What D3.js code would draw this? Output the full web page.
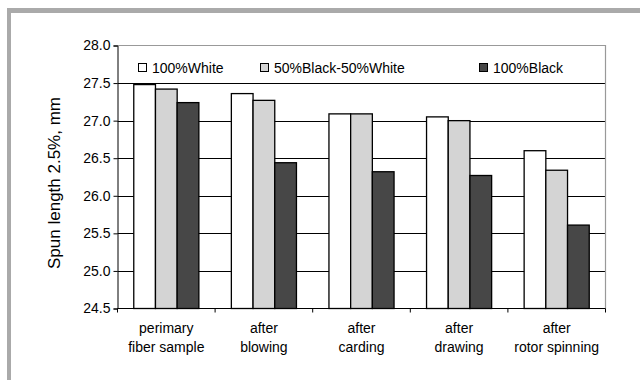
<!DOCTYPE html>
<html><head><meta charset="utf-8">
<script src="https://cdn.jsdelivr.net/npm/d3@7/dist/d3.min.js"></script>
<style>body{margin:0;background:#fff}svg{display:block;font-family:"Liberation Sans",Arial,sans-serif}</style>
</head><body><svg id="c" width="640" height="380"></svg>
<script>
const categories = [["perimary","fiber sample"],["after","blowing"],["after","carding"],["after","drawing"],["after","rotor spinning"]];
const seriesNames = ["100%White","50%Black-50%White","100%Black"];
const white = [27.48, 27.36, 27.09, 27.05, 26.60];
const mixed = [27.42, 27.27, 27.09, 27.00, 26.34];
const black = [27.24, 26.44, 26.32, 26.27, 25.61];
const yTicks = [24.5, 25.0, 25.5, 26.0, 26.5, 27.0, 27.5, 28.0];
const colors = ["#ffffff", "#d4d4d4", "#474747"];
const series = [white, mixed, black];
const FF = "'Liberation Sans', Arial, sans-serif";

const svg = d3.select("#c");
// frame
svg.append("rect").attr("x",7).attr("y",8).attr("width",633).attr("height",372).attr("fill","#aaaaaa");
svg.append("rect").attr("x",11).attr("y",13).attr("width",629).attr("height",367).attr("fill","#ffffff");

const L=117.5, R=605.5, T=45.5, B=308.5;
const x0 = d3.scaleBand().domain(d3.range(categories.length)).range([L,R]).paddingInner(0.333).paddingOuter(0.1667);
const x1 = d3.scaleBand().domain(d3.range(3)).range([0, x0.bandwidth()]);
const y = d3.scaleLinear().domain([24.5, 28.0]).range([B, T]);

// grid
svg.append("g").selectAll("line").data(yTicks.slice(1,-1)).join("line")
  .attr("x1",L).attr("x2",R).attr("y1",d=>Math.round(y(d))+0.5).attr("y2",d=>Math.round(y(d))+0.5)
  .attr("stroke","#000").attr("stroke-width",1);
// top and right border
svg.append("path").attr("d",`M${L},${T}H${R}V${B}`).attr("fill","none").attr("stroke","#999").attr("stroke-width",1.2);

// bars
const g = svg.append("g");
series.forEach((s,si)=>{
  g.append("g").selectAll("rect").data(s).join("rect")
    .attr("x",(d,i)=>x0(i)+x1(si))
    .attr("y",d=>y(d))
    .attr("width",x1.bandwidth())
    .attr("height",d=>B-y(d))
    .attr("fill",colors[si]).attr("stroke","#000").attr("stroke-width",1.3);
});

// y axis
const ya = svg.append("g").attr("transform",`translate(${L},0)`)
  .call(d3.axisLeft(y).tickValues(yTicks).tickFormat(d3.format(".1f")).tickSizeOuter(0).tickSize(4).tickPadding(3));
ya.attr("font-family",FF);
ya.select(".domain").attr("stroke","#000");
ya.selectAll("line").attr("stroke","#000");
ya.selectAll("text").attr("font-size",14).attr("font-family",FF).attr("fill","#000");

// x axis line and ticks at boundaries
const bounds = d3.range(categories.length+1).map(i=>L+(R-L)*i/categories.length);
svg.append("line").attr("x1",L).attr("x2",R).attr("y1",B).attr("y2",B).attr("stroke","#000").attr("stroke-width",1.2);
svg.append("g").selectAll("line").data(bounds).join("line")
  .attr("x1",d=>d).attr("x2",d=>d).attr("y1",B).attr("y2",B+4).attr("stroke","#000");

// category labels
const cl = svg.append("g").attr("font-size",14).attr("font-family",FF).attr("text-anchor","middle").attr("fill","#000");
categories.forEach((c,i)=>{
  const cx = x0(i)+x0.bandwidth()/2;
  c.forEach((t,j)=>{
    cl.append("text").attr("x",cx).attr("y",333+j*19).text(t);
  });
});

// y title
svg.append("text").attr("transform",`translate(60,183) rotate(-90)`)
  .attr("text-anchor","middle").attr("font-size",17).attr("font-family",FF).attr("fill","#000").text("Spun length 2.5%, mm");

// legend
const legX = [138, 260, 479];
const lg = svg.append("g").attr("font-size",14).attr("font-family",FF);
seriesNames.forEach((n,i)=>{
  lg.append("rect").attr("x",legX[i]+0.5).attr("y",63.5).attr("width",8).attr("height",8)
    .attr("fill",colors[i]).attr("stroke","#000").attr("stroke-width",1);
  lg.append("text").attr("x",legX[i]+14).attr("y",72.5).text(n);
});
</script></body></html>
